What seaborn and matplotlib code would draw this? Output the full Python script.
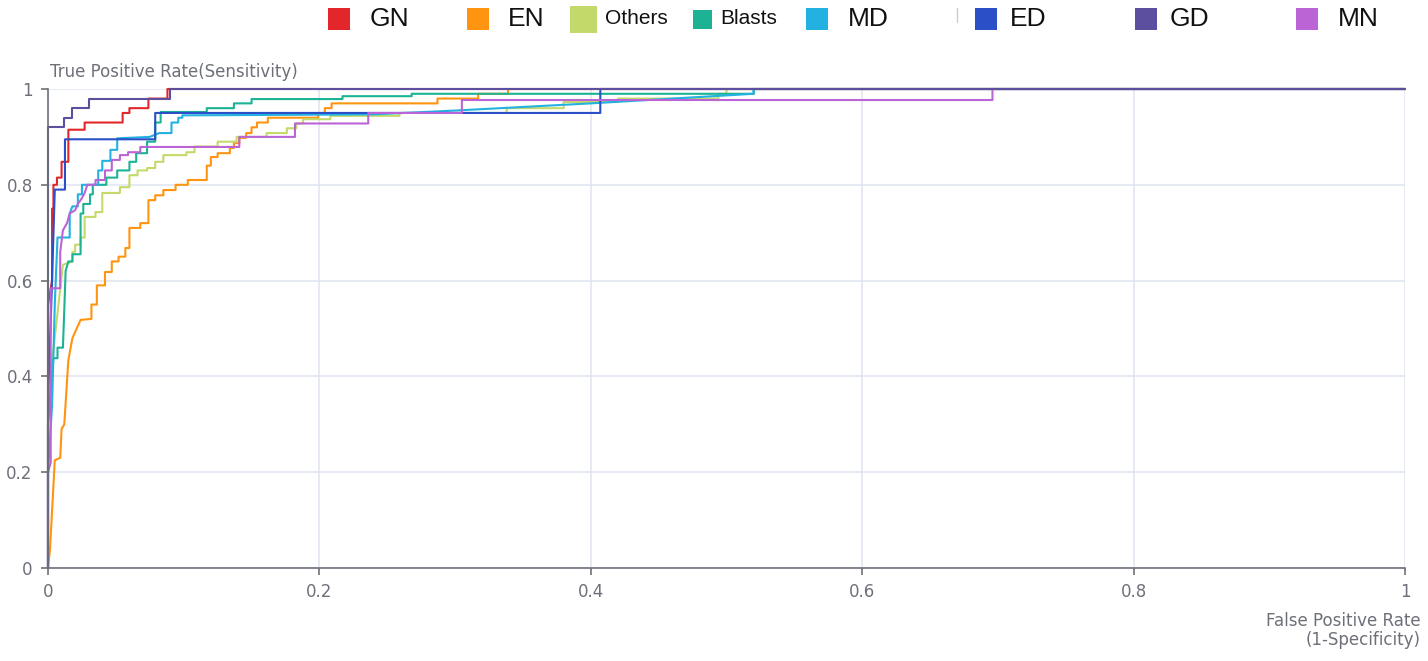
import numpy as np
import pandas as pd
import matplotlib
matplotlib.use("Agg")
import matplotlib.pyplot as plt
from matplotlib.patches import Rectangle
import seaborn as sns

# ROC curves (fpr, tpr) per class
classes = ["GN", "EN", "Others", "Blasts", "MD", "ED", "GD", "MN"]

gn_fpr = [0, 0, 0.003, 0.003, 0.004, 0.004, 0.0066, 0.0066, 0.010, 0.010, 0.015, 0.015,
          0.027, 0.027, 0.055, 0.055, 0.060, 0.060, 0.074, 0.074, 0.088, 0.088, 1]
gn_tpr = [0, 0.55, 0.60, 0.75, 0.75, 0.80, 0.80, 0.815, 0.815, 0.848, 0.848, 0.915,
          0.915, 0.93, 0.93, 0.95, 0.95, 0.96, 0.96, 0.98, 0.98, 1.0, 1.0]

en_fpr = [0, 0.0015, 0.005, 0.009, 0.010, 0.012, 0.015, 0.018, 0.024, 0.032, 0.032, 0.036,
          0.036, 0.042, 0.042, 0.047, 0.047, 0.052, 0.052, 0.057, 0.057, 0.060, 0.060,
          0.068, 0.068, 0.074, 0.074, 0.079, 0.079, 0.085, 0.085, 0.094, 0.094, 0.103,
          0.103, 0.112, 0.112, 0.117, 0.117, 0.120, 0.120, 0.125, 0.125, 0.134, 0.134,
          0.137, 0.137, 0.141, 0.141, 0.146, 0.146, 0.150, 0.150, 0.154, 0.154, 0.162,
          0.162, 0.199, 0.199, 0.204, 0.204, 0.209, 0.209, 0.287, 0.287, 0.317, 0.317,
          0.339, 0.339, 1]
en_tpr = [0, 0.04, 0.225, 0.23, 0.29, 0.30, 0.434, 0.48, 0.518, 0.52, 0.55, 0.55,
          0.59, 0.59, 0.618, 0.618, 0.64, 0.64, 0.65, 0.65, 0.668, 0.668, 0.71,
          0.71, 0.72, 0.72, 0.768, 0.768, 0.778, 0.778, 0.789, 0.789, 0.80, 0.80,
          0.81, 0.81, 0.81, 0.81, 0.84, 0.84, 0.858, 0.858, 0.866, 0.866, 0.877,
          0.877, 0.887, 0.887, 0.898, 0.898, 0.908, 0.908, 0.92, 0.92, 0.93, 0.93,
          0.94, 0.94, 0.95, 0.95, 0.96, 0.96, 0.97, 0.97, 0.98, 0.98, 0.99,
          0.99, 1.0, 1.0]

oth_fpr = [0, 0, 0.003, 0.011, 0.018, 0.018, 0.020, 0.020, 0.024, 0.024, 0.027, 0.027,
           0.035, 0.035, 0.040, 0.040, 0.053, 0.053, 0.060, 0.060, 0.066, 0.066, 0.073,
           0.073, 0.079, 0.079, 0.085, 0.085, 0.102, 0.102, 0.108, 0.108, 0.125, 0.125,
           0.139, 0.139, 0.161, 0.161, 0.176, 0.176, 0.183, 0.183, 0.188, 0.188, 0.208,
           0.208, 0.259, 0.259, 0.338, 0.338, 0.380, 0.380, 0.420, 0.420, 0.494, 0.494,
           0.50, 0.50, 1]
oth_tpr = [0, 0.30, 0.43, 0.633, 0.64, 0.66, 0.66, 0.675, 0.675, 0.69, 0.69, 0.733,
           0.733, 0.743, 0.743, 0.783, 0.783, 0.795, 0.795, 0.82, 0.82, 0.83, 0.83,
           0.835, 0.835, 0.848, 0.848, 0.862, 0.862, 0.868, 0.868, 0.88, 0.88, 0.89,
           0.89, 0.90, 0.90, 0.908, 0.908, 0.918, 0.918, 0.928, 0.928, 0.937, 0.937,
           0.944, 0.944, 0.95, 0.95, 0.96, 0.96, 0.973, 0.973, 0.98, 0.98, 0.99,
           0.99, 1.0, 1.0]

bla_fpr = [0, 0, 0.004, 0.007, 0.007, 0.011, 0.013, 0.015, 0.018, 0.018, 0.024, 0.024,
           0.026, 0.026, 0.031, 0.031, 0.033, 0.033, 0.043, 0.043, 0.051, 0.051, 0.060,
           0.060, 0.065, 0.065, 0.073, 0.073, 0.079, 0.079, 0.083, 0.083, 0.117, 0.117,
           0.137, 0.137, 0.150, 0.150, 0.217, 0.217, 0.268, 0.268, 0.52, 0.52, 1]
bla_tpr = [0, 0.30, 0.438, 0.438, 0.46, 0.46, 0.62, 0.64, 0.64, 0.655, 0.655, 0.74,
           0.74, 0.76, 0.76, 0.78, 0.78, 0.80, 0.80, 0.815, 0.815, 0.83, 0.83,
           0.848, 0.848, 0.866, 0.866, 0.89, 0.89, 0.93, 0.93, 0.952, 0.952, 0.96,
           0.96, 0.97, 0.97, 0.979, 0.979, 0.985, 0.985, 0.99, 0.99, 1.0, 1.0]

md_fpr = [0, 0, 0.003, 0.005, 0.007, 0.016, 0.016, 0.018, 0.022, 0.022, 0.025, 0.025,
          0.037, 0.037, 0.040, 0.040, 0.046, 0.046, 0.051, 0.051, 0.075, 0.082, 0.091,
          0.091, 0.096, 0.096, 0.099, 0.099, 0.24, 0.30, 0.40, 0.52, 0.52, 1]
md_tpr = [0, 0.20, 0.34, 0.55, 0.69, 0.69, 0.74, 0.755, 0.755, 0.78, 0.78, 0.80,
          0.80, 0.83, 0.83, 0.85, 0.85, 0.873, 0.873, 0.897, 0.90, 0.908, 0.908,
          0.93, 0.93, 0.94, 0.94, 0.945, 0.947, 0.955, 0.97, 0.99, 1.0, 1.0]

ed_fpr = [0, 0, 0.003, 0.005, 0.0125, 0.0125, 0.079, 0.079, 0.407, 0.407, 1]
ed_tpr = [0, 0.35, 0.60, 0.79, 0.79, 0.895, 0.895, 0.95, 0.95, 1.0, 1.0]

gd_fpr = [0, 0, 0.012, 0.012, 0.018, 0.018, 0.030, 0.030, 0.090, 0.090, 1]
gd_tpr = [0, 0.92, 0.92, 0.94, 0.94, 0.96, 0.96, 0.98, 0.98, 1.0, 1.0]

mn_fpr = [0, 0, 0.002, 0.002, 0.009, 0.009, 0.011, 0.014, 0.016, 0.020, 0.022, 0.025,
          0.027, 0.029, 0.035, 0.035, 0.042, 0.042, 0.047, 0.047, 0.053, 0.053, 0.059,
          0.059, 0.068, 0.068, 0.141, 0.141, 0.182, 0.182, 0.236, 0.236, 0.305, 0.305,
          0.696, 0.696, 1]
mn_tpr = [0, 0.20, 0.22, 0.584, 0.584, 0.66, 0.705, 0.72, 0.74, 0.747, 0.76, 0.772,
          0.783, 0.80, 0.80, 0.81, 0.81, 0.83, 0.83, 0.852, 0.852, 0.862, 0.862,
          0.868, 0.868, 0.879, 0.879, 0.90, 0.90, 0.928, 0.928, 0.95, 0.95, 0.977,
          0.977, 1.0, 1.0]

curves = {
    "GN": (gn_fpr, gn_tpr), "EN": (en_fpr, en_tpr), "Others": (oth_fpr, oth_tpr),
    "Blasts": (bla_fpr, bla_tpr), "MD": (md_fpr, md_tpr), "ED": (ed_fpr, ed_tpr),
    "GD": (gd_fpr, gd_tpr), "MN": (mn_fpr, mn_tpr),
}
colors = ["#e3262c", "#ff9410", "#c3da6a", "#1bb393", "#22b1e0", "#2a4fc6", "#5c4fa0", "#bb64d6"]
palette = dict(zip(classes, colors))

sns.set_theme(style="white")
plt.rcParams["font.family"] = ["DejaVu Sans"]

fig = plt.figure(figsize=(14.28, 6.61), dpi=100)
ax = fig.add_axes([48 / 1428, 93 / 661, 1357 / 1428, 479 / 661])

# GD drawn last so it sits on top along tpr = 1, like the reference
draw_order = ["GN", "EN", "Others", "Blasts", "MD", "ED", "MN", "GD"]
for name in draw_order:
    fpr, tpr = curves[name]
    df = pd.DataFrame({"fpr": fpr, "tpr": tpr})
    sns.lineplot(data=df, x="fpr", y="tpr", sort=False, estimator=None,
                 color=palette[name], linewidth=1.5, ax=ax, clip_on=False)

ax.set_xlim(0, 1)
ax.set_ylim(0, 1)
ax.set_xticks(np.arange(0, 1.01, 0.2))
ax.set_yticks(np.arange(0, 1.01, 0.2))
ax.set_xticklabels(["0", "0.2", "0.4", "0.6", "0.8", "1"])
ax.set_yticklabels(["0", "0.2", "0.4", "0.6", "0.8", "1"])
ax.set_xlabel("")
ax.set_ylabel("")
ax.grid(True, color="#e0e6f1", linewidth=1.2)
ax.set_axisbelow(True)
for s in ["top", "right"]:
    ax.spines[s].set_visible(False)
for s in ["left", "bottom"]:
    ax.spines[s].set_color("#6e7079")
    ax.spines[s].set_linewidth(1.2)
ax.tick_params(axis="both", colors="#6e7079", labelcolor="#6e7079", labelsize=12,
               length=5, width=1.2, direction="out", left=True, bottom=True)
ax.tick_params(axis="y", pad=6)
ax.tick_params(axis="x", pad=6)

fig.text(50 / 1428, 1 - 72 / 661, "True Positive Rate(Sensitivity)",
         ha="left", va="center", fontsize=12, color="#6e7079")
fig.text(1421 / 1428, 1 - 612 / 661, "False Positive Rate\n(1-Specificity)", ha="right",
         va="top", fontsize=12, color="#6e7079", linespacing=1.1)

# legend, placed like the reference
box_x = [328, 467, 570, 693, 806, 975, 1135, 1296]
box_s = [22, 22, 27, 19, 22, 22, 22, 22]
txt_x = [370, 508, 605, 720, 848, 1010, 1170, 1338]
txt_fs = [19, 19, 15, 15, 19, 19, 19, 19]
yc = 19
for i, name in enumerate(classes):
    s = box_s[i]
    fig.patches.append(Rectangle((box_x[i] / 1428, 1 - (yc + s / 2) / 661), s / 1428, s / 661,
                                 transform=fig.transFigure, facecolor=colors[i],
                                 edgecolor="none"))
    fig.text(txt_x[i] / 1428, 1 - yc / 661, name, ha="left", va="center",
             fontsize=txt_fs[i], color="#111111", family="Liberation Sans")
fig.lines.append(plt.Line2D([957 / 1428, 957 / 1428], [1 - 8 / 661, 1 - 22 / 661],
                            transform=fig.transFigure, color="#cccccc", linewidth=1))

fig.savefig("out.png", dpi=100)
